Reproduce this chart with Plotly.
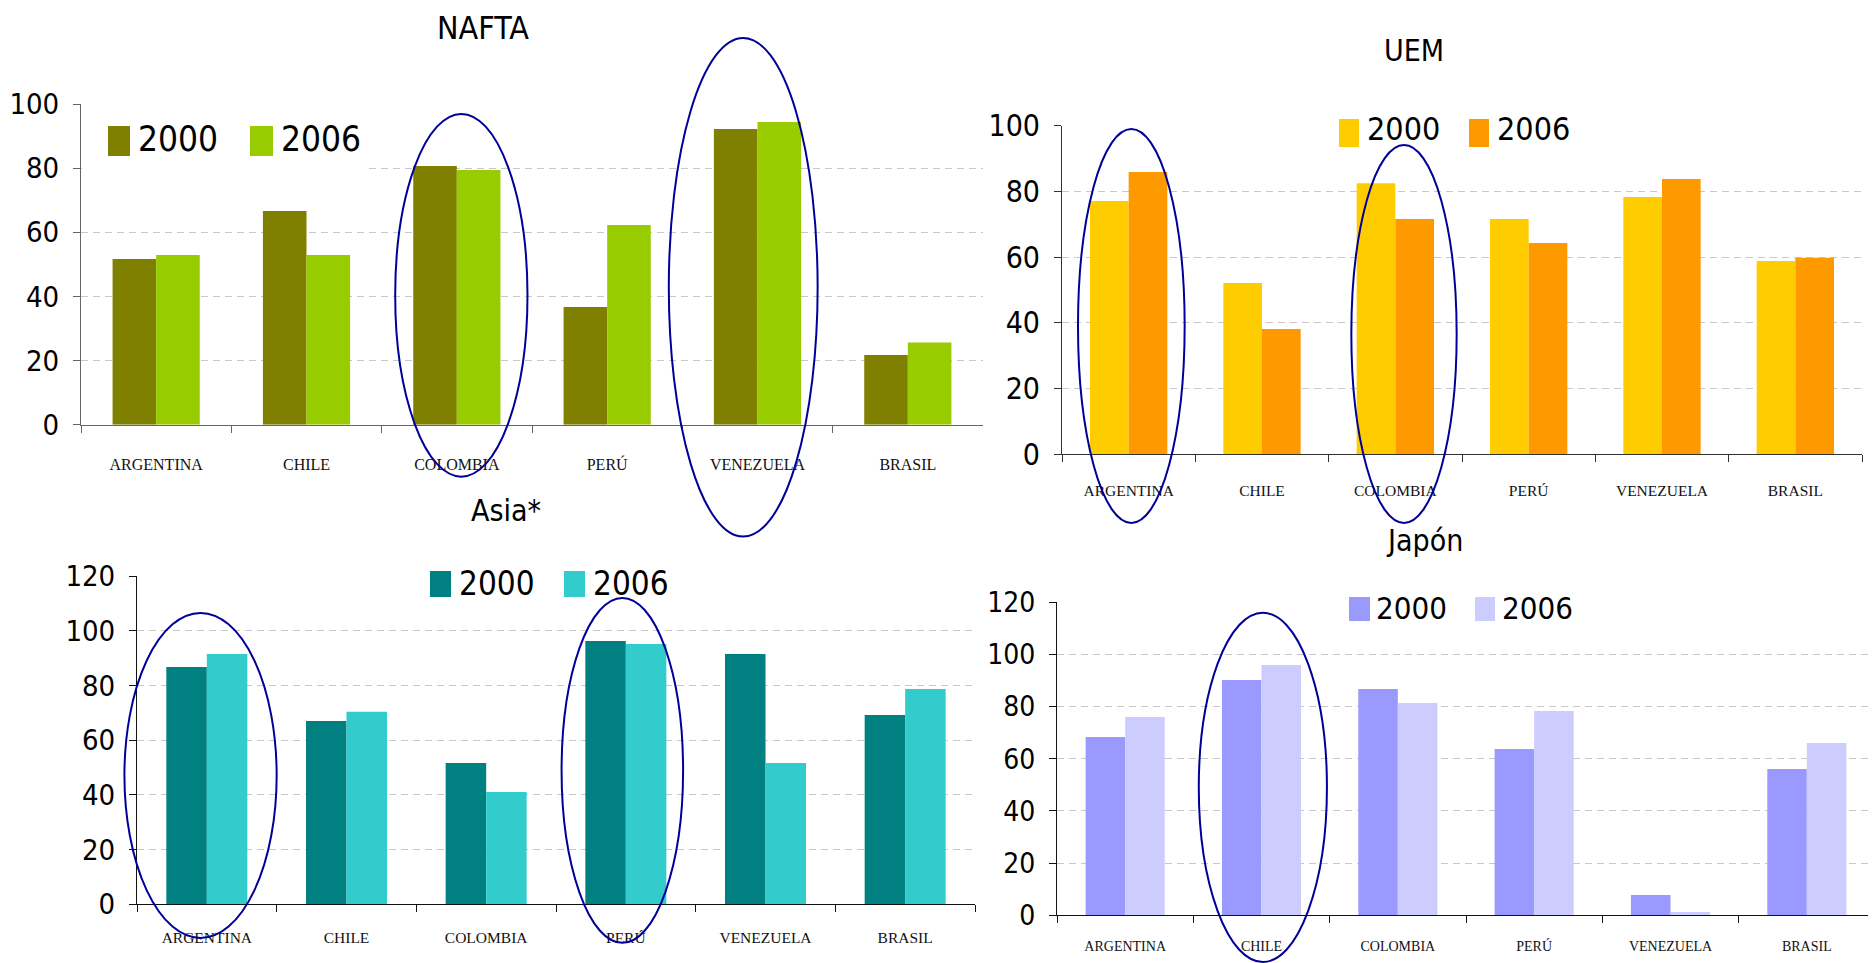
import plotly.graph_objects as go

# ---------------- data ----------------
categories = ["ARGENTINA", "CHILE", "COLOMBIA", "PERÚ", "VENEZUELA", "BRASIL"]
years = ["2000", "2006"]

nafta_2000 = [51.7, 66.6, 80.7, 36.7, 92.2, 21.7]
nafta_2006 = [52.9, 52.9, 79.4, 62.3, 94.4, 25.6]

uem_2000 = [77.1, 52.1, 82.5, 71.6, 78.3, 58.8]
uem_2006 = [85.9, 38.1, 71.6, 64.3, 83.8, 59.8]

asia_2000 = [86.8, 67.1, 51.7, 96.3, 91.6, 69.3]
asia_2006 = [91.6, 70.4, 41.1, 95.2, 51.7, 78.8]

japon_2000 = [68.4, 90.2, 86.8, 63.8, 7.8, 56.1]
japon_2006 = [76.0, 96.0, 81.4, 78.3, 1.3, 66.1]

titles = ["NAFTA", "UEM", "Asia*", "Japón"]
highlighted = {
    "NAFTA": ["COLOMBIA", "VENEZUELA"],
    "UEM": ["ARGENTINA", "COLOMBIA"],
    "Asia*": ["ARGENTINA", "PERÚ"],
    "Japón": ["CHILE"],
}

# ---------------- layout / style ----------------
W, H = 1876, 963
PAGE_OFFSET = 8  # default body margin of the written html page
NARROW = "DejaVu Sans Condensed, Liberation Sans Narrow, Arial Narrow, Liberation Sans, sans-serif"
SERIF = "Liberation Serif, Times New Roman, DejaVu Serif, serif"
ELLIPSE_COLOR = "#000099"

panels = [
    dict(title="NAFTA", v=(nafta_2000, nafta_2006), colors=("#808000", "#99CC00"), axis="#666666",
         xpx=(81, 983), ypx=(424.7, 104.0), yrange=(0, 100), dtick=20,
         tickfont=29, catfont=16, standoff=25, title_xy=(483, None), title_size=32,
         leg=dict(sq=[(108, 130), (250, 273)], sqy=(126, 156), tx=[136, 279], ty=139,
                  size=35, mask=(82, 368, 92, 202)),
         ell=[(-0.41, 0.47, 96.9, -16.2), (-0.59, 0.40, 120.6, -34.9)]),
    dict(title="UEM", v=(uem_2000, uem_2006), colors=("#FFCC00", "#FF9900"), axis="#333333",
         xpx=(1062, 1862), ypx=(454.0, 125.7), yrange=(0, 100), dtick=20,
         tickfont=30, catfont=15.5, standoff=22, title_xy=(1414, 50), title_size=30,
         leg=dict(sq=[(1339, 1359), (1469, 1489)], sqy=(119, 147), tx=[1365, 1495], ty=129,
                  size=32, mask=(1318, 1578, 108, 160)),
         ell=[(-0.38, 0.42, 99.0, -21.0), (-0.33, 0.46, 94.1, -21.0)]),
    dict(title="Asia*", v=(asia_2000, asia_2006), colors=("#008080", "#33CCCC"), axis="#111111",
         xpx=(137, 975), ypx=(904.3, 576.3), yrange=(0, 120), dtick=20,
         tickfont=29, catfont=15.5, standoff=19, title_xy=(506, 510), title_size=30,
         leg=dict(sq=[(430, 451), (564, 585)], sqy=(571, 597), tx=[457, 591], ty=583,
                  size=33, mask=(408, 680, 560, 612)),
         ell=[(-0.59, 0.50, 106.6, -12.3), (-0.46, 0.41, 112.1, -14.1)]),
    dict(title="Japón", v=(japon_2000, japon_2006), colors=("#9999FF", "#CCCCFF"), axis="#111111",
         xpx=(1057, 1875), ypx=(915.3, 602.3), yrange=(0, 120), dtick=20,
         tickfont=28, catfont=14, standoff=18, title_xy=(1424, 540), title_size=30,
         leg=dict(sq=[(1349, 1370), (1475, 1495)], sqy=(597, 621), tx=[1374, 1500], ty=608,
                  size=31, mask=(1333, 1581, 588, 634)),
         ell=[(-0.46, 0.48, 116.0, -17.9)]),
]


def px_x(x):
    return (x - PAGE_OFFSET) / W


def px_y(y):
    return 1 - (y - PAGE_OFFSET) / H


fig = go.Figure()
mask_shapes, swatch_shapes, ellipse_shapes = [], [], []
annotations = []

for i, p in enumerate(panels):
    n = "" if i == 0 else str(i + 1)
    xa, ya = "x" + n, "y" + n
    xdom = [px_x(p["xpx"][0]), px_x(p["xpx"][1])]
    ydom = [px_y(p["ypx"][0]), px_y(p["ypx"][1])]

    for k, yr in enumerate(years):
        fig.add_trace(go.Bar(
            x=categories, y=p["v"][k], name=yr,
            marker=dict(color=p["colors"][k], line=dict(width=0)),
            xaxis=xa, yaxis=ya, showlegend=False, offsetgroup=str(k),
            hovertemplate="%{x}<br>" + yr + ": %{y}<extra>" + p["title"] + "</extra>",
        ))

    fig.update_layout(**{
        "xaxis" + n: dict(domain=xdom, anchor=ya, type="category", categoryorder="array",
                          categoryarray=categories, tickson="boundaries", ticks="outside",
                          ticklen=7, tickcolor=p["axis"], showline=True, linecolor=p["axis"],
                          linewidth=1, showgrid=False, zeroline=False, automargin=False,
                          ticklabelstandoff=p["standoff"],
                          tickfont=dict(family=SERIF, size=p["catfont"], color="#111111"),
                          range=[-0.5, len(categories) - 0.5], fixedrange=True),
        "yaxis" + n: dict(domain=ydom, anchor=xa, range=list(p["yrange"]), dtick=p["dtick"],
                          tick0=0, ticks="outside", ticklen=7, tickcolor=p["axis"],
                          showline=True, linecolor=p["axis"], linewidth=1,
                          showgrid=True, gridcolor="#c8c8c8", gridwidth=1, griddash="7px,5px",
                          zeroline=False, ticklabelstandoff=8, automargin=False,
                          tickfont=dict(family=NARROW, size=p["tickfont"], color="#000000"),
                          fixedrange=True),
    })

    # panel title (the top one hangs from the top edge of the figure)
    tx_, ty_ = p["title_xy"]
    if ty_ is None:
        annotations.append(dict(text=p["title"], x=px_x(tx_), y=1, xref="paper", yref="paper",
                                xanchor="center", yanchor="top", borderpad=0, showarrow=False,
                                font=dict(family=NARROW, size=p["title_size"], color="#000000")))
    else:
        annotations.append(dict(text=p["title"], x=px_x(tx_), y=px_y(ty_), xref="paper", yref="paper",
                                xanchor="center", yanchor="middle", showarrow=False,
                                font=dict(family=NARROW, size=p["title_size"], color="#000000")))

    # legend: white box hiding gridlines, colour swatches and labels
    lg = p["leg"]
    mx0, mx1, my0, my1 = lg["mask"]
    mask_shapes.append(dict(type="rect", xref="paper", yref="paper", layer="above",
                            x0=px_x(mx0), x1=px_x(mx1), y0=px_y(my1), y1=px_y(my0),
                            fillcolor="white", line=dict(width=0)))
    for k, yr in enumerate(years):
        sx0, sx1 = lg["sq"][k]
        swatch_shapes.append(dict(type="rect", xref="paper", yref="paper", layer="above",
                                  x0=px_x(sx0), x1=px_x(sx1),
                                  y0=px_y(lg["sqy"][1]), y1=px_y(lg["sqy"][0]),
                                  fillcolor=p["colors"][k], line=dict(width=0)))
        annotations.append(dict(text=yr, x=px_x(lg["tx"][k]), y=px_y(lg["ty"]),
                                xref="paper", yref="paper", xanchor="left", yanchor="middle",
                                showarrow=False,
                                font=dict(family=NARROW, size=lg["size"], color="#000000")))

    # highlight ellipses around selected countries
    ncat = len(categories)
    cw = (xdom[1] - xdom[0]) / ncat
    r0, r1 = p["yrange"]
    for cat, (dx0, dx1, vtop, vbot) in zip(highlighted[p["title"]], p["ell"]):
        idx = categories.index(cat)
        c = xdom[0] + (idx + 0.5) * cw
        y_bot = ydom[0] + (vbot - r0) / (r1 - r0) * (ydom[1] - ydom[0])
        y_top = ydom[0] + (vtop - r0) / (r1 - r0) * (ydom[1] - ydom[0])
        ellipse_shapes.append(dict(type="circle", xref="paper", yref="paper", layer="above",
                                   x0=c + dx0 * cw, x1=c + dx1 * cw, y0=y_bot, y1=y_top,
                                   line=dict(color=ELLIPSE_COLOR, width=2),
                                   fillcolor="rgba(0,0,0,0)"))

fig.update_layout(
    width=W, height=H, autosize=False,
    margin=dict(l=0, r=0, t=0, b=0, pad=0, autoexpand=False),
    paper_bgcolor="white", plot_bgcolor="white",
    barmode="group", bargap=0.42, bargroupgap=0,
    showlegend=False,
    shapes=mask_shapes + swatch_shapes + ellipse_shapes,
    annotations=annotations,
)

fig.write_html("out.html", config={"displayModeBar": False})
